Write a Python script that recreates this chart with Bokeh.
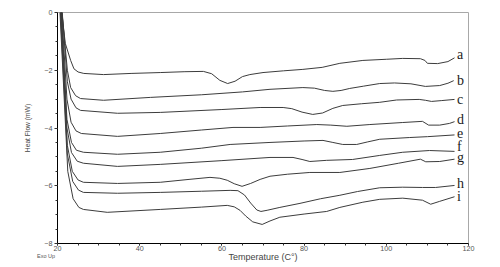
from bokeh.plotting import figure
from bokeh.models import Range1d, ColumnDataSource, FixedTicker, LinearAxis
from bokeh.core.properties import value
from bokeh.embed import file_html
from bokeh.resources import INLINE

# ---- data (Temperature °C, Heat Flow mW) ----
a_t = [20.8, 21.9, 23.2, 24.0, 25.0, 26.4, 31.2, 37.9, 45.0, 51.0, 55.5, 57.5, 59.5, 61.4, 63.2, 65.0, 66.8, 70.0, 75.0, 79.7, 84.4, 88.7, 94.3, 100.0, 104.0, 108.3, 109.4, 110.0, 112.5, 115.0, 116.6]
a_v = [0.3, -1.07, -1.66, -1.95, -2.06, -2.11, -2.15, -2.11, -2.08, -2.05, -2.04, -2.12, -2.35, -2.46, -2.38, -2.22, -2.15, -2.08, -2.02, -1.97, -1.90, -1.76, -1.66, -1.62, -1.59, -1.60, -1.66, -1.76, -1.77, -1.70, -1.57]

b_t = [20.9, 22.4, 23.2, 24.4, 25.6, 31.2, 42.6, 55.0, 65.0, 71.7, 79.7, 82.5, 85.0, 87.0, 89.0, 91.1, 94.5, 98.4, 102.0, 106.0, 109.5, 113.0, 115.0, 116.4]
b_v = [0.3, -2.0, -2.6, -2.88, -2.98, -3.04, -2.94, -2.85, -2.75, -2.66, -2.60, -2.62, -2.70, -2.73, -2.70, -2.63, -2.55, -2.46, -2.44, -2.47, -2.56, -2.53, -2.45, -2.36]

c_t = [21.0, 22.4, 23.3, 24.5, 25.6, 34.6, 45.0, 60.0, 69.3, 74.9, 77.0, 79.5, 82.1, 84.5, 87.0, 89.4, 94.0, 98.4, 102.5, 108.0, 109.5, 111.0, 113.5, 116.6]
c_v = [0.3, -2.4, -3.0, -3.3, -3.39, -3.49, -3.46, -3.36, -3.29, -3.29, -3.33, -3.45, -3.53, -3.48, -3.32, -3.22, -3.16, -3.11, -3.03, -3.01, -3.04, -3.08, -3.05, -3.01]

d_t = [20.9, 22.3, 23.3, 24.5, 25.8, 34.6, 45.0, 55.0, 62.7, 69.3, 76.0, 83.1, 86.5, 90.4, 96.0, 104.0, 108.8, 110.3, 113.0, 115.4, 116.6]
d_v = [0.3, -3.0, -3.8, -4.1, -4.19, -4.29, -4.19, -4.07, -3.98, -3.98, -3.93, -3.88, -3.90, -3.94, -3.88, -3.81, -3.77, -3.90, -3.90, -3.84, -3.78]

e_t = [20.8, 22.3, 23.4, 24.6, 26.3, 34.6, 45.0, 55.0, 62.0, 71.7, 80.0, 84.6, 87.0, 89.4, 92.8, 95.5, 98.4, 105.7, 110.0, 116.6]
e_v = [0.3, -3.7, -4.5, -4.77, -4.84, -4.91, -4.84, -4.70, -4.57, -4.50, -4.45, -4.43, -4.50, -4.57, -4.57, -4.48, -4.39, -4.33, -4.30, -4.24]

f_t = [20.8, 22.3, 23.4, 24.8, 26.3, 34.6, 45.0, 60.0, 71.7, 77.3, 79.5, 81.4, 85.5, 91.8, 98.4, 104.0, 110.5, 116.6]
f_v = [0.3, -4.0, -4.85, -5.15, -5.22, -5.33, -5.26, -5.13, -5.02, -5.02, -5.09, -5.16, -5.12, -5.09, -4.95, -4.84, -4.78, -4.81]

g_t = [20.7, 22.4, 23.6, 25.0, 26.3, 34.6, 45.0, 52.0, 57.1, 59.5, 61.3, 63.0, 64.9, 67.0, 69.3, 71.7, 76.0, 81.4, 88.7, 96.0, 103.0, 108.3, 109.6, 113.0, 116.6]
g_v = [0.3, -4.6, -5.5, -5.8, -5.88, -5.92, -5.88, -5.78, -5.71, -5.74, -5.81, -5.93, -6.02, -5.92, -5.78, -5.67, -5.60, -5.54, -5.54, -5.40, -5.22, -5.08, -5.17, -5.16, -5.08]

h_t = [20.6, 22.4, 23.7, 25.1, 26.3, 34.6, 45.0, 55.0, 62.0, 63.9, 65.5, 67.0, 68.5, 69.5, 71.0, 74.1, 79.0, 84.0, 88.7, 93.0, 98.4, 104.0, 108.8, 112.0, 116.6]
h_v = [0.3, -4.9, -5.85, -6.15, -6.23, -6.26, -6.23, -6.19, -6.16, -6.17, -6.32, -6.60, -6.84, -6.89, -6.85, -6.75, -6.61, -6.45, -6.33, -6.20, -6.07, -6.05, -6.06, -6.06, -5.99]

i_t = [20.5, 22.5, 23.8, 25.2, 26.3, 32.1, 45.0, 55.0, 61.3, 63.0, 64.4, 65.8, 67.5, 69.8, 71.7, 74.1, 80.0, 85.5, 88.7, 94.3, 98.4, 104.0, 108.8, 110.8, 113.0, 116.6]
i_v = [0.3, -5.5, -6.45, -6.75, -6.82, -6.92, -6.82, -6.74, -6.68, -6.73, -6.85, -7.05, -7.25, -7.34, -7.22, -7.09, -6.98, -6.89, -6.75, -6.57, -6.47, -6.43, -6.50, -6.64, -6.54, -6.38]

curve_labels = ["a", "b", "c", "d", "e", "f", "g", "h", "i"]
label_t = [117.2] * 9
label_v = [-1.47, -2.36, -3.01, -3.72, -4.17, -4.65, -5.03, -5.93, -6.38]

x_ticks = [20, 40, 60, 80, 100, 120]
x_minor = [20, 25, 30, 35, 40, 45, 50, 55, 60, 65, 70, 75, 80, 85, 90, 95, 100, 105, 110, 115, 120]
y_ticks = [-8, -6, -4, -2, 0]
y_minor = [-8, -7.5, -7, -6.5, -6, -5.5, -5, -4.5, -4, -3.5, -3, -2.5, -2, -1.5, -1, -0.5, 0]

x_title = "Temperature (C°)"
y_title = "Heat Flow (mW)"
corner_note = "Exo Up"

# ---- figure ----
p = figure(width=500, height=267, output_backend="svg", toolbar_location=None,
           x_range=Range1d(20, 120), y_range=Range1d(-8, 0),
           min_border_left=57, min_border_right=32, min_border_top=12, min_border_bottom=24)
p.background_fill_color = "white"
p.border_fill_color = "white"
p.outline_line_color = "#a8a8a8"
p.outline_line_width = 1
p.xgrid.visible = False
p.ygrid.visible = False

line_color = "#3c3c3c"
for ts, vs in [(a_t, a_v), (b_t, b_v), (c_t, c_v), (d_t, d_v), (e_t, e_v),
               (f_t, f_v), (g_t, g_v), (h_t, h_v), (i_t, i_v)]:
    p.line(ts, vs, line_color=line_color, line_width=1)

src = ColumnDataSource(dict(x=label_t, y=label_v, t=curve_labels))
p.text(x="x", y="y", text="t", source=src, text_font=value("Liberation Serif"),
       text_font_size="14px", text_color="#1a1a1a", text_align="left", text_baseline="middle")

xax = p.xaxis[0]
yax = p.yaxis[0]
for ax in (xax, yax):
    ax.axis_line_color = "black"
    ax.axis_line_width = 1
    ax.major_tick_line_color = "#333333"
    ax.minor_tick_line_color = "#333333"
    ax.major_tick_in = 0
    ax.minor_tick_in = 0
    ax.major_label_text_font = "Liberation Sans"
    ax.major_label_text_font_size = "7.2px"
    ax.major_label_text_color = "#555555"

xax.ticker = FixedTicker(ticks=x_ticks, minor_ticks=x_minor)
xax.major_tick_out = 2
xax.minor_tick_out = 2
xax.major_label_standoff = 0

yax.ticker = FixedTicker(ticks=y_ticks, minor_ticks=y_minor)
yax.major_tick_out = 3
yax.minor_tick_out = 2
yax.major_label_standoff = 2
yax.axis_label = y_title
yax.axis_label_text_font = "Liberation Sans"
yax.axis_label_text_font_size = "6.7px"
yax.axis_label_text_font_style = "normal"
yax.axis_label_text_color = "#444444"
yax.axis_label_standoff = 10

# second (label-only) axis below: "Exo Up" note at left and the x title
p.extra_x_ranges = {"lab": Range1d(20, 120)}
ax2 = LinearAxis(x_range_name="lab", ticker=FixedTicker(ticks=[20], minor_ticks=[]),
                 major_label_overrides={20: corner_note + "\u00a0" * 15})
ax2.axis_line_color = None
ax2.major_tick_line_color = None
ax2.minor_tick_line_color = None
ax2.major_tick_out = 0
ax2.major_tick_in = 0
ax2.minor_tick_out = 0
ax2.minor_tick_in = 0
ax2.major_label_standoff = -1
ax2.major_label_text_font = "Liberation Sans"
ax2.major_label_text_font_size = "5.5px"
ax2.major_label_text_color = "#555555"
ax2.axis_label = x_title
ax2.axis_label_text_font = "Liberation Sans"
ax2.axis_label_text_font_size = "9px"
ax2.axis_label_text_font_style = "normal"
ax2.axis_label_text_color = "#444444"
ax2.axis_label_standoff = -10
p.add_layout(ax2, "below")

open("out.html", "w").write(file_html(p, INLINE))
